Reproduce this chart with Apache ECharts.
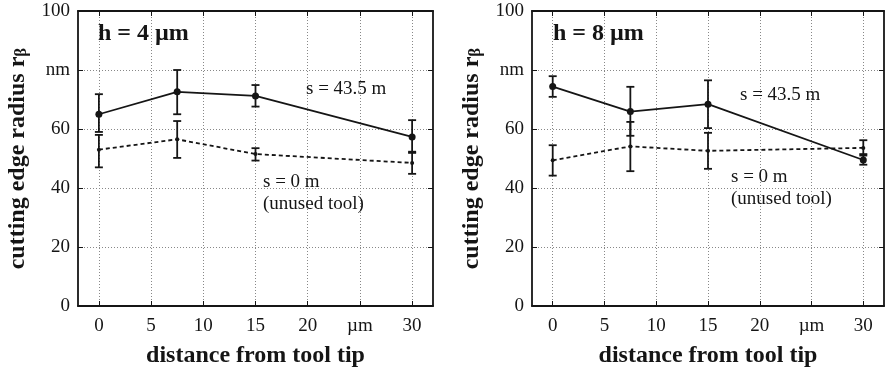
<!DOCTYPE html>
<html>
<head>
<meta charset="utf-8">
<script src="https://cdn.jsdelivr.net/npm/echarts@6/dist/echarts.min.js"></script>
<style>
  html, body { margin: 0; padding: 0; background: #fff; }
  #chart { width: 885px; height: 373px; }
</style>
</head>
<body>
<div id="chart"></div>
<script>
// distance from tool tip (µm)
const xPos = [0, 7.5, 15, 30];
const xTicks = [0, 5, 10, 15, 20, 25, 30];
const xTickLabels = ['0', '5', '10', '15', '20', 'µm', '30'];
const yTickLabels = ['0', '20', '40', '60', 'nm', '100'];

// h = 4 µm
const h4Used = [65, 72.6, 71.2, 57.3];
const h4UsedLo = [59, 65, 67.6, 51.9];
const h4UsedHi = [71.8, 80, 74.9, 63];
const h4New = [53, 56.5, 51.5, 48.5];
const h4NewLo = [47, 50.2, 49.3, 44.8];
const h4NewHi = [58, 62.7, 53.5, 52.3];

// h = 8 µm
const h8Used = [74.4, 65.9, 68.4, 49.5];
const h8UsedLo = [70.9, 57.7, 60.3, 47.9];
const h8UsedHi = [77.9, 74.3, 76.5, 51.5];
const h8New = [49.4, 54.1, 52.6, 53.6];
const h8NewLo = [44.2, 45.7, 46.5, 51.0];
const h8NewHi = [54.5, 62.4, 58.7, 56.2];

const serif = '"Liberation Serif", "DejaVu Serif", serif';
const ink = '#151515';

const pts = (ys) => xPos.map((x, i) => [x, ys[i]]);
const bars = (lo, hi) => xPos.map((x, i) => [x, lo[i], hi[i]]);

function errorBars(data, g) {
  return {
    type: 'custom',
    xAxisIndex: g * 2, yAxisIndex: g * 2,
    data: data,
    z: 3,
    renderItem: function (params, api) {
      const top = api.coord([api.value(0), api.value(2)]);
      const bot = api.coord([api.value(0), api.value(1)]);
      const w = 4;
      const st = { stroke: ink, lineWidth: 1.8 };
      return {
        type: 'group',
        children: [
          { type: 'line', shape: { x1: top[0], y1: top[1], x2: bot[0], y2: bot[1] }, style: st },
          { type: 'line', shape: { x1: top[0] - w, y1: top[1], x2: top[0] + w, y2: top[1] }, style: st },
          { type: 'line', shape: { x1: bot[0] - w, y1: bot[1], x2: bot[0] + w, y2: bot[1] }, style: st }
        ]
      };
    }
  };
}

function lineSeries(data, g, dashed) {
  return {
    type: 'line',
    xAxisIndex: g * 2, yAxisIndex: g * 2,
    data: data,
    symbol: 'circle',
    symbolSize: dashed ? 4 : 7,
    itemStyle: { color: ink },
    lineStyle: { color: ink, width: 1.8, type: dashed ? [4, 3] : 'solid' },
    z: 4
  };
}

const grids = [
  { left: 78, top: 11, width: 355, height: 297 },
  { left: 532, top: 11, width: 352, height: 297 }
];

const frame = { onZero: false, lineStyle: { color: ink, width: 1.8 } };
const dotted = { show: true, lineStyle: { color: '#888', type: [1, 2], width: 1 } };

const xAxes = [];
const yAxes = [];
grids.forEach((gr, g) => {
  xAxes.push({
    type: 'value', gridIndex: g, min: -2, max: 32, position: 'bottom',
    axisLine: frame,
    axisTick: { inside: true, length: 5, customValues: xTicks, lineStyle: { color: ink } },
    axisLabel: {
      customValues: xTicks, color: ink, fontFamily: serif, fontSize: 19, margin: 11,
      formatter: (v) => xTickLabels[xTicks.indexOf(v)]
    },
    splitLine: dotted,
    name: 'distance from tool tip', nameLocation: 'middle', nameGap: 38,
    nameTextStyle: { fontFamily: serif, fontWeight: 'bold', fontSize: 24, color: ink }
  });
  xAxes.push({
    type: 'value', gridIndex: g, min: -2, max: 32, position: 'top',
    axisLine: frame,
    axisTick: { inside: true, length: 5, customValues: xTicks, lineStyle: { color: ink } },
    axisLabel: { show: false },
    splitLine: { show: false }
  });
  yAxes.push({
    type: 'value', gridIndex: g, min: 0, max: 100, interval: 20, position: 'left',
    axisLine: frame,
    axisTick: { show: true, inside: true, length: 5, lineStyle: { color: ink } },
    axisLabel: {
      color: ink, fontFamily: serif, fontSize: 19, margin: 8,
      formatter: (v) => yTickLabels[v / 20]
    },
    splitLine: dotted,
    name: '{a|cutting edge radius r}{b|β}', nameLocation: 'middle', nameGap: 48, nameRotate: 90,
    nameTextStyle: {
      rich: {
        a: { fontFamily: serif, fontWeight: 'bold', fontSize: 24, color: ink },
        b: { fontFamily: serif, fontWeight: 'bold', fontSize: 17, color: ink, padding: [8, 0, 0, 0], verticalAlign: 'bottom' }
      }
    }
  });
  yAxes.push({
    type: 'value', gridIndex: g, min: 0, max: 100, interval: 20, position: 'right',
    axisLine: frame,
    axisTick: { show: true, inside: true, length: 5, lineStyle: { color: ink } },
    axisLabel: { show: false },
    splitLine: { show: false }
  });
});

function label(x, y, text, bold, size) {
  return {
    type: 'text', x: x, y: y, z: 10,
    style: {
      text: text, fill: ink, verticalAlign: 'middle',
      font: (bold ? 'bold ' : '') + size + 'px ' + serif
    }
  };
}

const chart = echarts.init(document.getElementById('chart'));
chart.setOption({
  animation: false,
  grid: grids,
  xAxis: xAxes,
  yAxis: yAxes,
  series: [
    errorBars(bars(h4UsedLo, h4UsedHi), 0),
    errorBars(bars(h4NewLo, h4NewHi), 0),
    lineSeries(pts(h4Used), 0, false),
    lineSeries(pts(h4New), 0, true),
    errorBars(bars(h8UsedLo, h8UsedHi), 1),
    errorBars(bars(h8NewLo, h8NewHi), 1),
    lineSeries(pts(h8Used), 1, false),
    lineSeries(pts(h8New), 1, true)
  ],
  graphic: [
    label(98, 34, 'h = 4 µm', true, 24),
    label(306, 89, 's = 43.5 m', false, 19),
    label(263, 182, 's = 0 m', false, 19),
    label(263, 204, '(unused tool)', false, 19),
    label(553, 34, 'h = 8 µm', true, 24),
    label(740, 95, 's = 43.5 m', false, 19),
    label(731, 177, 's = 0 m', false, 19),
    label(731, 199, '(unused tool)', false, 19)
  ]
});
</script>
</body>
</html>
